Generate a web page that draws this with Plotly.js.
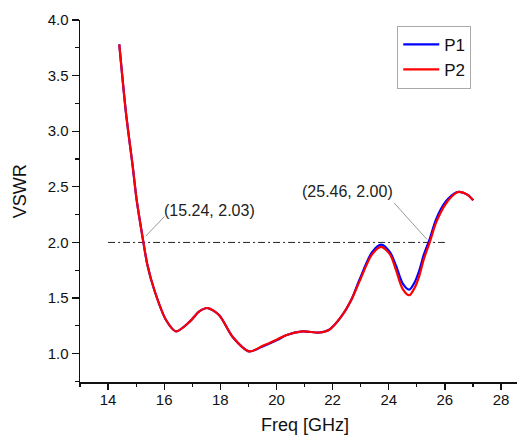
<!DOCTYPE html>
<html>
<head>
<meta charset="utf-8">
<script src="https://cdn.plot.ly/plotly-3.0.1.min.js"></script>
<style>
  html, body { margin: 0; padding: 0; background: #fff; }
  #chart { width: 517px; height: 436px; }
</style>
</head>
<body>
<div id="chart"></div>
<script>
// Frequency samples (GHz)
const freq = [14.40, 14.64, 14.88, 15.02, 15.24, 15.40, 15.65, 16.07, 16.42, 16.90,
              17.25, 17.55, 17.96, 18.44, 19.03, 19.51, 20.04, 20.34, 20.93, 21.53,
              21.88, 22.30, 22.66, 22.95, 23.40, 23.73, 24.05, 24.26, 24.50, 24.73,
              24.92, 25.09, 25.25, 25.46, 25.69, 26.04, 26.40, 26.52, 26.80, 27.01];

// VSWR of port 1
const vswrP1 = [3.78, 3.16, 2.68, 2.38, 2.03, 1.80, 1.57, 1.30, 1.20, 1.285,
                1.38, 1.41, 1.345, 1.15, 1.02, 1.065, 1.125, 1.165, 1.20, 1.19,
                1.215, 1.33, 1.48, 1.66, 1.91, 1.98, 1.91, 1.79, 1.63, 1.576,
                1.64, 1.75, 1.89, 2.03, 2.21, 2.37, 2.45, 2.455, 2.43, 2.38];

// VSWR of port 2
const vswrP2 = [3.78, 3.16, 2.68, 2.38, 2.03, 1.80, 1.57, 1.30, 1.20, 1.285,
                1.38, 1.41, 1.345, 1.15, 1.02, 1.07, 1.13, 1.165, 1.20, 1.19,
                1.215, 1.33, 1.48, 1.645, 1.89, 1.96, 1.89, 1.75, 1.58, 1.525,
                1.59, 1.70, 1.85, 2.00, 2.18, 2.35, 2.445, 2.455, 2.43, 2.38];

// VSWR = 2 reference level
const refX = [14, 26];
const refY = [2, 2];

// Band-edge crossings
const crossX = [15.24, 25.46];
const crossY = [2.03, 2.00];
const crossLabels = crossX.map((x, i) => '(' + x.toFixed(2) + ', ' + crossY[i].toFixed(2) + ')');

const FONT = 'Liberation Sans, Arial, sans-serif';

const traces = [
  {
    x: refX, y: refY, mode: 'lines', showlegend: false, hoverinfo: 'skip',
    line: { color: '#222', width: 1, dash: '7px,3px,2px,3px' }
  },
  {
    x: freq, y: vswrP1, name: 'P1', mode: 'lines',
    line: { color: '#0000ff', width: 2.2, shape: 'spline', smoothing: 0.8 }
  },
  {
    x: freq, y: vswrP2, name: 'P2', mode: 'lines',
    line: { color: '#ff0000', width: 2.2, shape: 'spline', smoothing: 0.8 }
  }
];

// Label positions and leader-line tails (pixels, relative to the crossing point)
const labelPos = [[17.61, 2.29], [22.54, 2.455]];
const leaderTail = [[23, -24], [-37, -41]];

const annotations = [];
crossX.forEach((x, i) => {
  annotations.push({
    x: labelPos[i][0], y: labelPos[i][1], xref: 'x', yref: 'y',
    xanchor: 'center', yanchor: 'middle',
    text: crossLabels[i], showarrow: false,
    font: { family: FONT, size: 16, color: '#222' }
  });
  annotations.push({
    x: x, y: crossY[i], xref: 'x', yref: 'y', text: '',
    showarrow: true, arrowhead: 0, arrowwidth: 1, arrowcolor: '#999',
    ax: leaderTail[i][0], ay: leaderTail[i][1], standoff: 4
  });
});

// Axis titles
annotations.push({
  xref: 'paper', yref: 'paper', x: -0.137, y: 0.527, text: 'VSWR',
  xanchor: 'center', yanchor: 'middle',
  textangle: -90, showarrow: false, font: { family: FONT, size: 18, color: '#111' }
});
annotations.push({
  xref: 'paper', yref: 'paper', x: 0.515, y: -0.12, text: 'Freq [GHz]',
  xanchor: 'center', yanchor: 'middle',
  showarrow: false, font: { family: FONT, size: 18, color: '#111' }
});

const layout = {
  width: 517, height: 436,
  margin: { l: 80, r: 0, t: 20, b: 54 },
  paper_bgcolor: '#fff', plot_bgcolor: '#fff',
  font: { family: FONT, color: '#111' },
  showlegend: true,
  legend: {
    x: 0.726, y: 0.984, xanchor: 'left', yanchor: 'top',
    bordercolor: '#aaa', borderwidth: 1, bgcolor: '#fff',
    font: { family: FONT, size: 17, color: '#111' },
    tracegroupgap: 0, itemwidth: 36
  },
  xaxis: {
    range: [13, 28.57], tick0: 14, dtick: 2,
    ticks: 'outside', ticklen: 6, tickwidth: 1.3, tickcolor: '#111',
    ticklabelstandoff: -3,
    minor: { dtick: 1, tick0: 13, ticks: 'outside', ticklen: 3.5, tickcolor: '#111', tickwidth: 1.2, showgrid: false },
    showline: true, linecolor: '#111', linewidth: 1.5,
    showgrid: false, zeroline: false,
    tickfont: { family: FONT, size: 15, color: '#111' }
  },
  yaxis: {
    range: [0.745, 4.0], tick0: 1, dtick: 0.5, tickformat: '.1f',
    ticks: 'outside', ticklen: 7, tickwidth: 1.3, tickcolor: '#111',
    minor: { dtick: 0.25, tick0: 0.75, ticks: 'outside', ticklen: 4, tickcolor: '#111', tickwidth: 1.2, showgrid: false },
    showline: true, linecolor: '#111', linewidth: 1.5,
    showgrid: false, zeroline: false,
    tickfont: { family: FONT, size: 15, color: '#111' }
  },
  annotations: annotations
};

Plotly.newPlot('chart', traces, layout, { displayModeBar: false, staticPlot: true });
</script>
</body>
</html>
